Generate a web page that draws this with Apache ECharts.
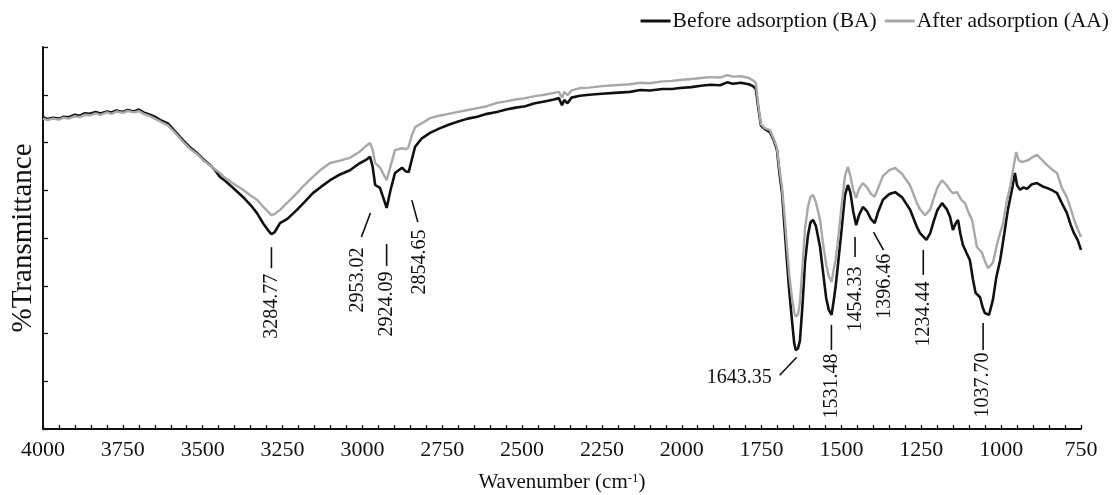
<!DOCTYPE html>
<html>
<head>
<meta charset="utf-8">
<title>FTIR spectra before and after adsorption</title>
<script src="https://cdn.jsdelivr.net/npm/echarts@6/dist/echarts.min.js"></script>
<style>
  html, body { margin: 0; padding: 0; background: #fff; }
  #chart { width: 1118px; height: 495px; }
</style>
</head>
<body>
<div id="chart"></div>
<script>
// FTIR spectrum before adsorption: [wavenumber (cm-1), %T]
const beforeAdsorption = [
  [4000, 65.3], [3985, 64.9], [3970, 65.2], [3950, 65.0], [3935, 65.4], [3920, 65.3],
  [3900, 65.8], [3885, 65.6], [3870, 66.1], [3853, 66.0], [3835, 66.4], [3820, 66.1],
  [3800, 66.5], [3785, 66.3], [3770, 66.7], [3750, 66.4], [3735, 66.8], [3715, 66.5],
  [3700, 66.9], [3685, 66.3], [3665, 65.8], [3650, 65.4], [3630, 64.6], [3609, 64.0],
  [3590, 62.6], [3562, 60.5], [3540, 59.0], [3518, 57.8], [3500, 56.6], [3477, 55.3],
  [3460, 54.1], [3446, 52.8], [3430, 52.0], [3415, 51.1], [3395, 49.9], [3374, 48.6],
  [3350, 46.9], [3330, 45.2], [3310, 43.0], [3295, 41.6], [3285, 40.8], [3275, 41.2],
  [3265, 42.3], [3258, 43.1], [3235, 44.0], [3205, 45.9], [3180, 47.6], [3155, 49.4],
  [3130, 50.7], [3101, 52.1], [3070, 53.3], [3039, 54.2], [3010, 55.6], [2990, 56.3],
  [2976, 57.0], [2968, 55.0], [2960, 51.1], [2945, 50.5], [2935, 48.5], [2924, 46.3],
  [2912, 50.0], [2898, 53.6], [2876, 54.7], [2865, 54.0], [2855, 53.8], [2845, 56.5],
  [2835, 59.1], [2815, 60.8], [2788, 62.0], [2760, 62.9], [2730, 63.7], [2700, 64.4],
  [2670, 65.0], [2640, 65.4], [2610, 66.0], [2579, 66.4], [2550, 66.9], [2520, 67.3],
  [2490, 67.6], [2460, 68.2], [2430, 68.6], [2400, 69.0], [2385, 69.3], [2375, 67.8],
  [2368, 68.9], [2358, 68.2], [2345, 69.4], [2319, 69.8], [2290, 70.0], [2250, 70.2],
  [2210, 70.4], [2162, 70.6], [2130, 71.0], [2100, 70.9], [2060, 71.2], [2030, 71.2],
  [2006, 71.4], [1970, 71.6], [1940, 71.9], [1910, 72.1], [1880, 72.0], [1858, 72.6],
  [1840, 72.3], [1815, 72.5], [1790, 72.2], [1777, 71.8], [1768, 71.2], [1760, 67.0],
  [1752, 63.5], [1740, 62.8], [1724, 62.2], [1712, 60.5], [1702, 58.4], [1694, 53.5],
  [1686, 49.4], [1678, 42.0], [1671, 35.4], [1663, 28.5], [1655, 22.8], [1648, 18.0],
  [1643, 16.5], [1636, 16.9], [1630, 18.5], [1622, 26.0], [1614, 35.0], [1605, 40.5],
  [1597, 43.3], [1589, 43.8], [1580, 42.5], [1567, 38.1], [1558, 33.0], [1548, 27.5],
  [1540, 25.0], [1531, 23.9], [1524, 27.0], [1518, 30.0], [1510, 35.0], [1500, 41.5],
  [1489, 49.0], [1480, 51.1], [1472, 49.5], [1463, 45.5], [1454, 42.7], [1445, 44.8],
  [1433, 46.5], [1420, 45.6], [1408, 44.0], [1396, 43.1], [1385, 45.5], [1370, 48.0],
  [1350, 49.2], [1332, 49.6], [1310, 48.5], [1285, 45.9], [1265, 42.5], [1254, 41.0],
  [1234, 39.6], [1222, 41.0], [1213, 43.1], [1200, 45.8], [1185, 47.3], [1170, 46.0],
  [1160, 44.4], [1151, 41.7], [1143, 43.0], [1135, 43.8], [1128, 41.0], [1120, 38.6],
  [1108, 36.8], [1098, 35.4], [1088, 31.2], [1080, 28.5], [1066, 27.6], [1058, 25.5],
  [1051, 24.3], [1038, 23.9], [1026, 27.0], [1015, 31.8], [1003, 35.4], [990, 41.0],
  [979, 45.9], [965, 50.5], [957, 53.6], [950, 51.0], [941, 50.1], [930, 50.6],
  [919, 50.3], [905, 51.2], [888, 51.5], [870, 50.8], [857, 50.5], [840, 50.0],
  [825, 49.4], [810, 47.3], [794, 45.2], [782, 42.7], [772, 41.0], [760, 39.5],
  [750, 37.5]
];

// FTIR spectrum after adsorption: [wavenumber (cm-1), %T]
const afterAdsorption = [
  [4000, 65.0], [3985, 64.7], [3970, 65.0], [3950, 64.8], [3935, 65.2], [3920, 65.0],
  [3900, 65.5], [3885, 65.3], [3870, 65.8], [3853, 65.7], [3835, 66.1], [3820, 65.8],
  [3800, 66.3], [3785, 66.0], [3770, 66.5], [3750, 66.2], [3735, 66.6], [3715, 66.3],
  [3700, 66.6], [3685, 66.0], [3665, 65.5], [3650, 65.0], [3630, 64.3], [3609, 63.6],
  [3590, 62.3], [3562, 60.2], [3540, 58.7], [3518, 57.6], [3500, 56.4], [3477, 55.2],
  [3460, 54.3], [3446, 53.6], [3430, 52.6], [3415, 51.9], [3395, 51.0], [3374, 50.1],
  [3350, 48.9], [3330, 48.0], [3310, 46.5], [3295, 45.5], [3285, 44.8], [3275, 45.0],
  [3258, 45.9], [3235, 47.4], [3205, 49.4], [3180, 51.2], [3155, 52.8], [3130, 54.3],
  [3101, 55.7], [3070, 56.2], [3039, 56.8], [3010, 58.0], [2990, 59.2], [2976, 59.9],
  [2968, 58.5], [2960, 55.7], [2945, 54.8], [2935, 53.5], [2924, 52.1], [2912, 55.0],
  [2898, 58.4], [2876, 58.8], [2865, 58.6], [2857, 58.8], [2845, 61.5], [2835, 63.2],
  [2815, 64.0], [2788, 65.1], [2760, 65.6], [2730, 66.0], [2700, 66.4], [2670, 66.8],
  [2640, 67.2], [2610, 67.6], [2579, 68.3], [2550, 68.6], [2520, 69.0], [2490, 69.3],
  [2460, 69.7], [2430, 70.0], [2400, 70.4], [2385, 70.6], [2375, 69.4], [2368, 70.6],
  [2358, 69.9], [2345, 70.9], [2319, 71.4], [2290, 71.5], [2250, 71.8], [2210, 72.0],
  [2162, 72.2], [2130, 72.5], [2100, 72.4], [2060, 72.8], [2030, 72.9], [2006, 73.1],
  [1970, 73.3], [1940, 73.5], [1910, 73.7], [1880, 73.6], [1858, 74.1], [1840, 73.8],
  [1815, 73.9], [1790, 73.5], [1777, 73.0], [1768, 72.5], [1760, 67.5], [1752, 63.8],
  [1740, 63.0], [1724, 62.6], [1712, 60.8], [1702, 58.8], [1694, 54.5], [1686, 50.5],
  [1678, 44.5], [1671, 38.5], [1663, 32.0], [1655, 27.5], [1648, 24.5], [1643, 23.5],
  [1636, 24.0], [1630, 26.5], [1622, 34.0], [1614, 42.0], [1605, 46.5], [1597, 48.6],
  [1589, 49.0], [1580, 47.5], [1567, 43.8], [1558, 39.0], [1548, 34.5], [1540, 32.0],
  [1531, 30.8], [1524, 33.5], [1518, 35.5], [1510, 40.0], [1500, 46.5], [1489, 53.0],
  [1480, 54.9], [1472, 53.0], [1463, 50.0], [1454, 48.4], [1445, 50.3], [1433, 51.5],
  [1420, 50.6], [1408, 49.3], [1396, 48.6], [1385, 50.5], [1370, 53.0], [1350, 54.2],
  [1332, 54.7], [1310, 53.4], [1285, 51.0], [1265, 47.5], [1254, 46.0], [1238, 44.8],
  [1222, 46.0], [1213, 48.0], [1200, 50.5], [1185, 52.1], [1170, 51.0], [1160, 50.0],
  [1151, 49.4], [1138, 49.6], [1125, 48.0], [1113, 47.3], [1100, 45.0], [1091, 43.8],
  [1076, 38.1], [1060, 36.9], [1050, 35.0], [1041, 33.7], [1026, 34.8], [1010, 39.5],
  [994, 43.1], [983, 47.5], [972, 50.7], [953, 58.0], [945, 56.3], [935, 55.9],
  [916, 56.3], [900, 57.0], [888, 57.4], [870, 56.2], [857, 55.3], [840, 54.3],
  [825, 53.6], [810, 50.5], [794, 48.5], [784, 46.5], [770, 43.5], [760, 41.8],
  [750, 40.2]
];

// Assigned band positions (cm-1) and the BA %T at each band
const peakWavenumbers = [3284.77, 2953.02, 2924.09, 2854.65, 1643.35, 1531.48, 1454.33, 1396.46, 1234.44, 1037.70];
const peakTransmittance = [40.8, 50.9, 46.3, 53.8, 16.5, 23.9, 42.7, 43.1, 39.6, 23.9];

// Axis ticks
const xMin = 750, xMax = 4000, xStep = 250;
const yMin = 0, yMax = 80, yStep = 10;

const seriesNames = ['Before adsorption (BA)', 'After adsorption (AA)'];

// Callout geometry in pixels relative to each band point:
// leader line [dx1, dy1, dx2, dy2], label centre [dx, dy], vertical or horizontal text
const calloutLayout = [
  { line: [0, 13, 0, 34], text: [0, 72], vertical: true },
  { line: [-7, 27, -16, 51], text: [-20, 94], vertical: true },
  { line: [0, 36, 0, 58], text: [0, 96], vertical: true },
  { line: [3, 28, 9, 50], text: [11, 90], vertical: true },
  { line: [1, 7, -16, 25], text: [-24, 28], vertical: false },
  { line: [0, 10, 0, 35], text: [0, 71], vertical: true },
  { line: [-1, 12, -1, 32], text: [0, 74], vertical: true },
  { line: [-1, 9, 9, 27], text: [10, 63], vertical: true },
  { line: [-3, 10, -3, 35], text: [-3, 74], vertical: true },
  { line: [-6, 8, -6, 35], text: [-6, 70], vertical: true }
];

const serif = '"Liberation Serif", "Times New Roman", serif';

const chart = echarts.init(document.getElementById('chart'), null, { renderer: 'canvas' });

chart.setOption({
  animation: false,
  backgroundColor: '#ffffff',
  legend: {
    top: 5,
    right: 4,
    itemWidth: 30,
    itemHeight: 3,
    itemGap: 8,
    textStyle: { fontFamily: serif, fontSize: 21.5, color: '#111', padding: [0, 0, 0, -3] },
    data: [
      { name: seriesNames[0], icon: 'rect', itemStyle: { color: '#111' } },
      { name: seriesNames[1], icon: 'rect', itemStyle: { color: '#a8a8a8' } }
    ]
  },
  grid: { left: 43, right: 37, top: 47, bottom: 66, containLabel: false, outerBoundsMode: 'none' },
  xAxis: {
    type: 'value',
    inverse: true,
    min: xMin,
    max: xMax,
    interval: xStep,
    name: 'Wavenumber (cm{sup|-1})',
    nameLocation: 'middle',
    nameGap: 43,
    nameTextStyle: {
      fontFamily: serif, fontSize: 21, color: '#111',
      rich: { sup: { fontFamily: serif, fontSize: 13, verticalAlign: 'top', padding: [0, 0, 8, 0], color: '#111' } }
    },
    axisLine: { lineStyle: { color: '#111', width: 2 } },
    axisTick: { inside: true, length: 4, lineStyle: { color: '#111', width: 1.3 } },
    minorTick: { show: true, splitNumber: 5, length: 4, lineStyle: { color: '#111', width: 1.3 } },
    axisLabel: {
      fontFamily: serif, fontSize: 22, color: '#111', margin: 10,
      formatter: function (v) { return String(v); }
    },
    splitLine: { show: false },
    minorSplitLine: { show: false }
  },
  yAxis: {
    type: 'value',
    min: yMin,
    max: yMax,
    interval: yStep,
    name: '%Transmittance',
    nameLocation: 'middle',
    nameRotate: 90,
    nameGap: 5,
    nameTextStyle: { fontFamily: serif, fontSize: 29, color: '#111' },
    axisLine: { show: true, lineStyle: { color: '#111', width: 2 } },
    axisTick: { show: true, inside: true, length: 5, lineStyle: { color: '#111', width: 1.3 } },
    axisLabel: { show: false },
    splitLine: { show: false }
  },
  series: [
    {
      name: seriesNames[0],
      type: 'line',
      data: beforeAdsorption,
      showSymbol: false,
      lineStyle: { color: '#111', width: 2.6 },
      itemStyle: { color: '#111' },
      z: 2
    },
    {
      name: seriesNames[1],
      type: 'line',
      data: afterAdsorption,
      showSymbol: false,
      lineStyle: { color: '#a8a8a8', width: 2.4 },
      itemStyle: { color: '#a8a8a8' },
      z: 3
    },
    {
      name: 'bands',
      type: 'custom',
      coordinateSystem: 'cartesian2d',
      clip: false,
      silent: true,
      z: 4,
      encode: { x: 0, y: 1 },
      data: peakWavenumbers.map((w, i) => [w, peakTransmittance[i]]),
      renderItem: function (params, api) {
        const i = params.dataIndex;
        const p = api.coord([api.value(0), api.value(1)]);
        const lay = calloutLayout[i];
        return {
          type: 'group',
          children: [
            {
              type: 'line',
              shape: {
                x1: p[0] + lay.line[0], y1: p[1] + lay.line[1],
                x2: p[0] + lay.line[2], y2: p[1] + lay.line[3]
              },
              style: { stroke: '#111', lineWidth: 1.6 }
            },
            {
              type: 'text',
              x: p[0] + lay.text[0],
              y: p[1] + lay.text[1],
              rotation: lay.vertical ? Math.PI / 2 : 0,
              style: {
                text: api.value(0).toFixed(2),
                font: '20px ' + serif,
                fill: '#111',
                align: lay.vertical ? 'center' : 'right',
                verticalAlign: 'middle'
              }
            }
          ]
        };
      }
    }
  ]
});
</script>
</body>
</html>
